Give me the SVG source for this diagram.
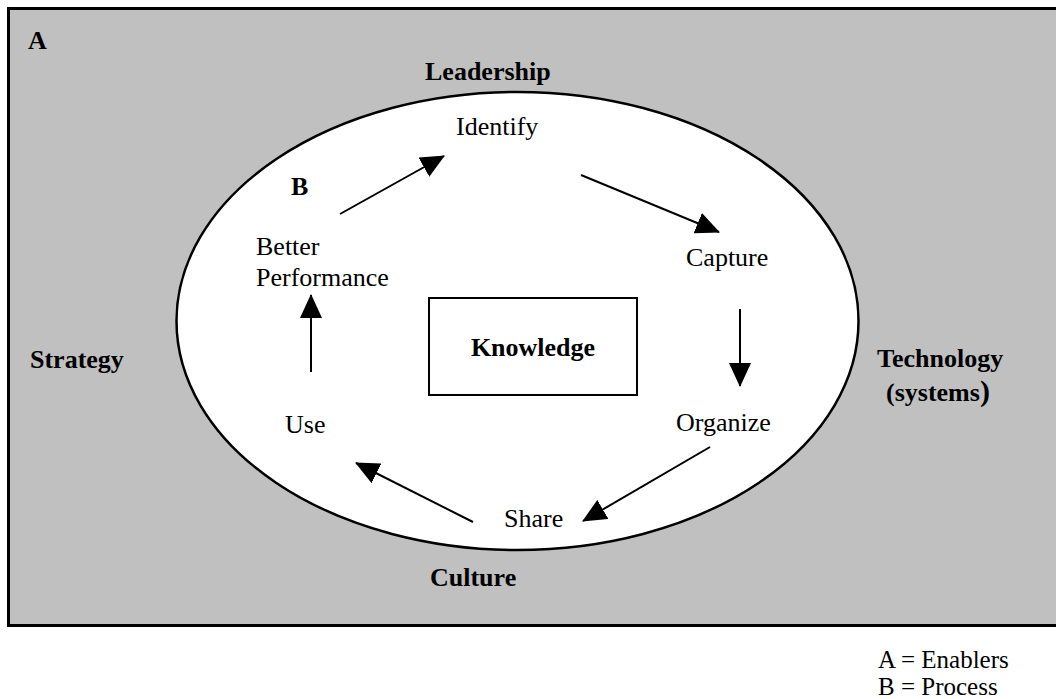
<svg xmlns="http://www.w3.org/2000/svg" width="1056" height="699" viewBox="0 0 1056 699">
  <style>
    text { font-family: "Liberation Serif", "Times New Roman", serif; font-size: 26px; fill: #000; }
    .b { font-weight: bold; }
    .key { font-size: 25px; }
    .flow { stroke: #000; stroke-width: 2; fill: none; marker-end: url(#head); }
  </style>
  <defs>
    <marker id="head" markerUnits="userSpaceOnUse" markerWidth="24" markerHeight="22" viewBox="0 0 24 22" refX="23" refY="11" orient="auto">
      <path d="M0,0 L24,11 L0,22 Z" fill="#000"/>
    </marker>
  </defs>

  <!-- enablers panel -->
  <g id="enablers">
    <rect x="8.5" y="8.5" width="1060" height="617" fill="#c0c0c0" stroke="#000" stroke-width="3"/>
    <text class="b" x="28" y="49">A</text>
    <text class="b" x="425" y="80">Leadership</text>
    <text class="b" x="30" y="368">Strategy</text>
    <text class="b" x="877" y="367">Technology</text>
    <text class="b" x="886" y="401">(systems<tspan font-size="30">)</tspan></text>
    <text class="b" x="430" y="586">Culture</text>
  </g>

  <!-- process cycle -->
  <g id="process">
    <ellipse cx="517.5" cy="321" rx="341" ry="229" fill="#fff" stroke="#000" stroke-width="2.5"/>
    <text class="b" x="291" y="195">B</text>
  </g>

  <g id="knowledge">
    <rect x="429" y="298" width="208" height="97" fill="#fff" stroke="#000" stroke-width="2"/>
    <text class="b" x="533" y="356" text-anchor="middle">Knowledge</text>
  </g>

  <g id="identify"><text x="456" y="135">Identify</text></g>
  <g id="capture"><text x="686" y="266">Capture</text></g>
  <g id="organize"><text x="676" y="431">Organize</text></g>
  <g id="share"><text x="504" y="527">Share</text></g>
  <g id="use"><text x="285" y="433">Use</text></g>
  <g id="better-performance">
    <text x="256" y="255">Better</text>
    <text x="256" y="286">Performance</text>
  </g>

  <g id="connectors">
    <line class="flow" x1="340" y1="214" x2="444" y2="156"/>
    <line class="flow" x1="581" y1="175" x2="719" y2="232"/>
    <line class="flow" x1="740" y1="309" x2="740" y2="386"/>
    <line class="flow" x1="710" y1="447" x2="583" y2="521"/>
    <line class="flow" x1="473" y1="522" x2="356" y2="463"/>
    <line class="flow" x1="311" y1="372" x2="311" y2="295"/>
  </g>

  <g id="legend">
    <text class="key" x="878" y="668">A = Enablers</text>
    <text class="key" x="878" y="695">B = Process</text>
  </g>
</svg>
